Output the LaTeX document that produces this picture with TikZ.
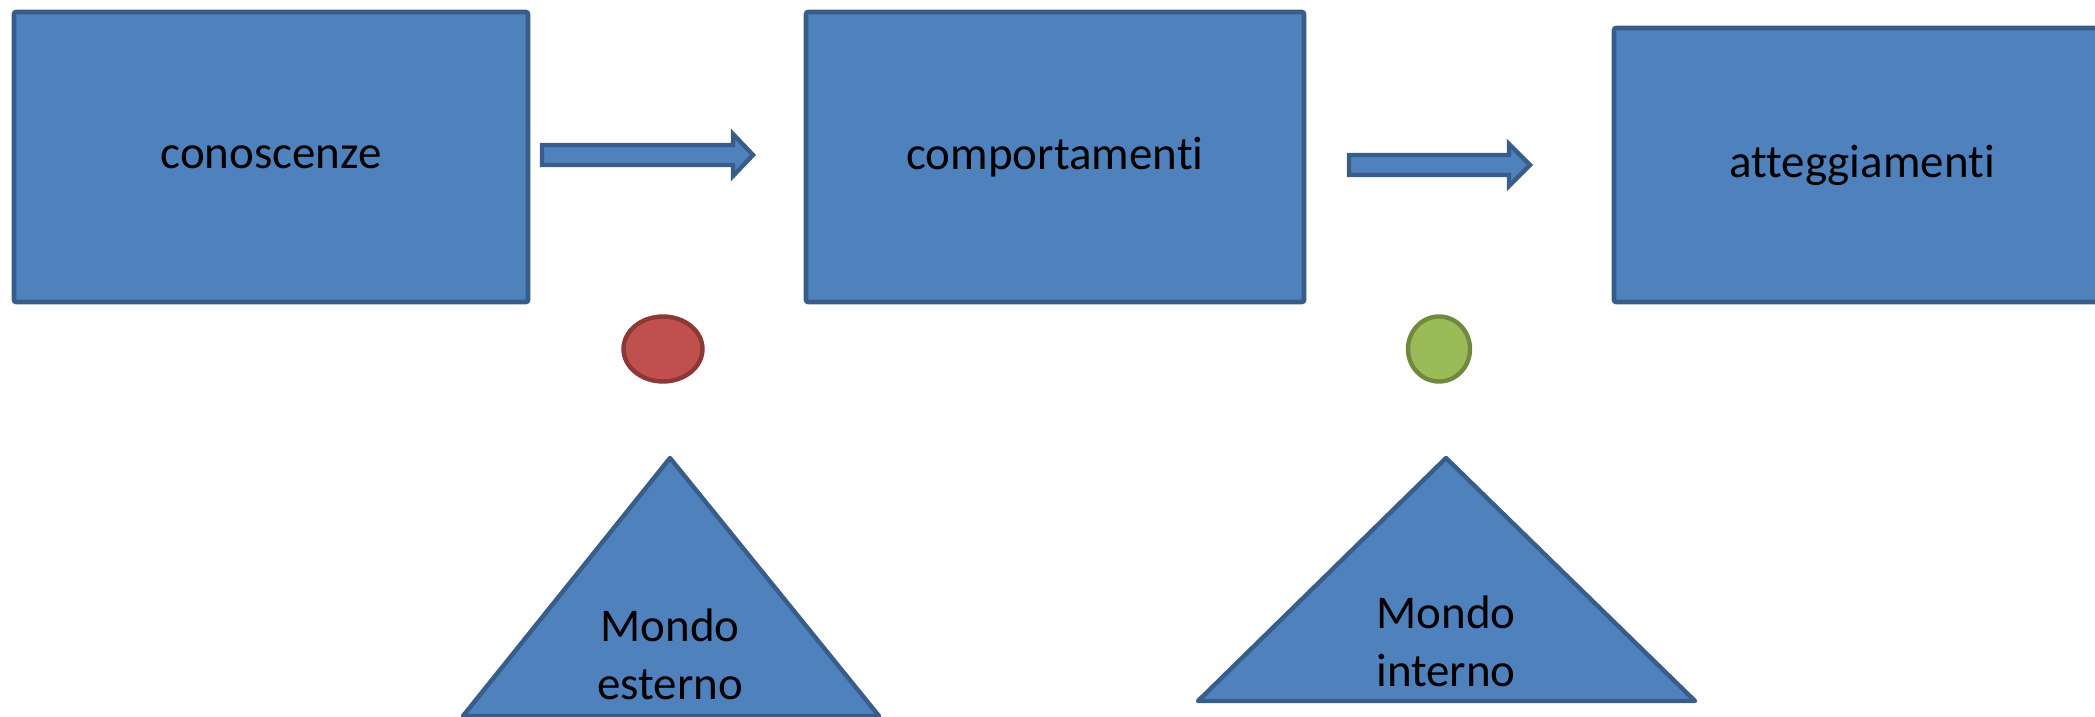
\documentclass[tikz,border=0pt]{standalone}
\usepackage{fontspec}
\setmainfont[Ligatures={NoCommon,NoRequired,NoContextual}]{Carlito}
\usetikzlibrary{shapes.geometric,calc}
\definecolor{boxfill}{HTML}{4F81BD}
\definecolor{boxline}{HTML}{385D8A}
\definecolor{redfill}{HTML}{C0504D}
\definecolor{redline}{HTML}{8C3836}
\definecolor{greenfill}{HTML}{9BBB59}
\definecolor{greenline}{HTML}{71893F}
\begin{document}
\begin{tikzpicture}[x=0.5pt,y=-0.5pt,
  lbl/.style={font=\fontsize{23.5}{29}\selectfont, text=black, align=center, inner sep=0pt},
  boxnode/.style={draw=boxline, fill=boxfill, line width=2.4pt, rounded corners=1.2pt, rectangle, lbl},
  blockarrow/.style={draw=boxline, fill=boxfill, line width=2.2pt, line join=miter},
  tri/.style={draw=boxline, fill=boxfill, line width=2.2pt, line join=round},
  dotred/.style={ellipse, draw=redline, fill=redfill, line width=2.2pt},
  dotgreen/.style={ellipse, draw=greenline, fill=greenfill, line width=2.2pt}]
\useasboundingbox (0,0) rectangle (2095,717);
% boxes
\node[boxnode, minimum width=257pt, minimum height=145pt] (k) at (271,157) {conoscenze};
\node[boxnode, minimum width=249pt, minimum height=145pt] (c) at (1055,157) {comportamenti};
\node[boxnode, minimum width=248pt, minimum height=137pt] (a) at (1862,165) {atteggiamenti};
% block arrows
\coordinate (a1s) at (542,155);
\coordinate (a1t) at (753,155);
\draw[blockarrow] ($(a1s)+(0,-10)$) -- (733,145) -- (733,134) -- (a1t) -- (733,176) -- (733,165) -- ($(a1s)+(0,10)$) -- cycle;
\coordinate (a2s) at (1349,165);
\coordinate (a2t) at (1530,165);
\draw[blockarrow] ($(a2s)+(0,-10)$) -- (1509,155) -- (1509,144) -- (a2t) -- (1509,186) -- (1509,175) -- ($(a2s)+(0,10)$) -- cycle;
% dots
\node[dotred, minimum width=39.5pt, minimum height=32.5pt] (r) at (663,349) {};
\node[dotgreen, minimum width=31pt, minimum height=32.5pt] (g) at (1439,349) {};
% triangles
\draw[tri] (670,458) -- (879,716) -- (463,716) -- cycle;
\draw[tri] (1446,458) -- (1695,701) -- (1198,701) -- cycle;
\node[lbl] (te) at (670,654) {Mondo\\esterno};
\node[lbl] (ti) at (1446,641) {Mondo\\interno};
\end{tikzpicture}
\end{document}
